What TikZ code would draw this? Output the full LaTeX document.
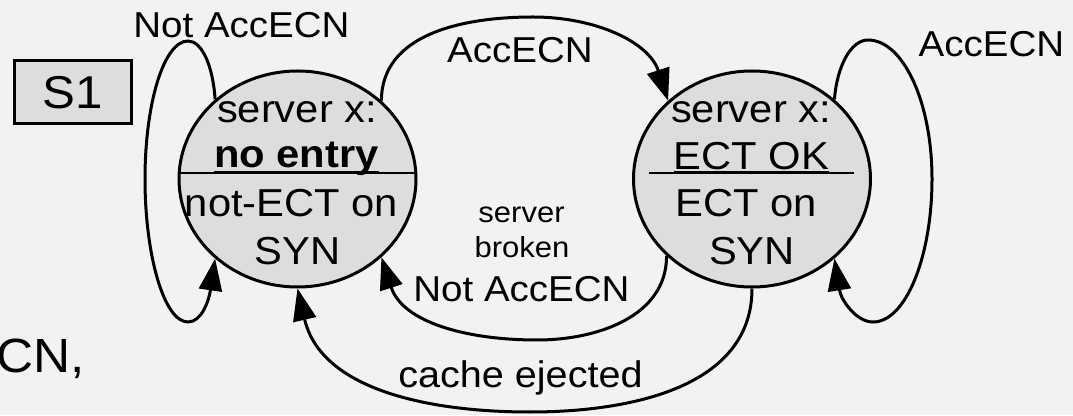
\documentclass[tikz,border=0pt]{standalone}
\usepackage{fontspec}
\setmainfont{Liberation Sans}
\usetikzlibrary{arrows.meta,shapes.geometric}
\definecolor{bgcol}{HTML}{F2F2F2}
\definecolor{statefill}{HTML}{DDDDDD}

\begin{document}
\begin{tikzpicture}[x=1pt,y=1pt,
  state/.style={ellipse, draw, line width=3pt, fill=statefill,
    minimum width=237pt, minimum height=216pt, inner sep=0pt},
  txt/.style={inner sep=0pt, anchor=base, xscale=1.07,
    font=\fontsize{#1}{#1}\selectfont},
  txt/.default=36,
  conn/.style={line width=3pt, -{Triangle[width=23pt,length=32pt]}},
  divider/.style={line width=2pt},
  uline/.style={line width=3pt}
]
% background and page frame
\fill[bgcol] (0,0) rectangle (1073,415);
\useasboundingbox (0,0) rectangle (1073,415);

% label box
\node[draw, line width=3pt, fill=statefill, minimum width=117pt,
  minimum height=63pt, inner sep=0pt] (s1box) at (73,323) {};
\node[txt=46] (s1txt) at (73,306.5) {S1};

% the two states
\node[state] (L) at (297.5,236) {};
\node[state] (R) at (752,236) {};

\draw[divider] (179.5,242) -- (415.5,242);
\draw[divider] (649,242) -- (854,242);

% state texts
\node[txt=39] (Lt1) at (297,292) {server x:};
\node[txt=39] (Lt2) at (296.5,247) {\textbf{no entry}};
\node[txt=39] (Lb1) at (291.5,198) {not-ECT on};
\node[txt=39] (Lb2) at (297.5,150) {SYN};
\draw[uline] ([yshift=-5pt]Lt2.base west) -- ([yshift=-5pt]Lt2.base east);

\node[txt=39] (Rt1) at (751,292) {server x:};
\node[txt=39] (Rt2) at (751.5,245) {ECT OK};
\node[txt=39] (Rb1) at (746,198) {ECT on};
\node[txt=39] (Rb2) at (752,150) {SYN};
\draw[uline] ([yshift=-3pt]Rt2.base west) -- ([yshift=-3pt]Rt2.base east);

% transition labels
\node[txt] (lNotL) at (241.5,377) {Not AccECN};
\node[txt] (lAcc) at (520,352) {AccECN};
\node[txt] (lAccR) at (991.5,358) {AccECN};
\node[txt=29] (lsrv) at (521.5,192) {server};
\node[txt=29] (lbrk) at (522,157) {broken};
\node[txt] (lNotM) at (521.5,113) {Not AccECN};
\node[txt=37] (lcache) at (520.5,28) {cache ejected};
\node[txt=48, anchor=base west] (lcn) at (-3.5,43) {CN,};

% self loops, drawn as tall ovals
\draw[conn] (L.136) .. controls (213,349) and (202,374) .. (188,374)
  .. controls (164,374) and (145,312) .. (145,236)
  .. controls (145,160) and (164,93) .. (188,93)
  .. controls (202,93) and (209,115) .. (L.224);
\draw[conn] (R.44) .. controls (837,349) and (851,375) .. (868,375)
  .. controls (903,375) and (932,313) .. (932,236)
  .. controls (932,159) and (906,93) .. (873,93)
  .. controls (856,93) and (841,115) .. (R.316);

% transitions between the states
\draw[conn] (L.43) to[out=90,in=180] (533,398) to[out=0,in=108] (R.137);
\draw[conn] (R.222) to[out=270,in=0] (537,75) to[out=180,in=288] (L.317);
\draw[conn] (R.270) to[out=270,in=0] (530,3) to[out=180,in=283] (L.270);
\end{tikzpicture}
\end{document}
